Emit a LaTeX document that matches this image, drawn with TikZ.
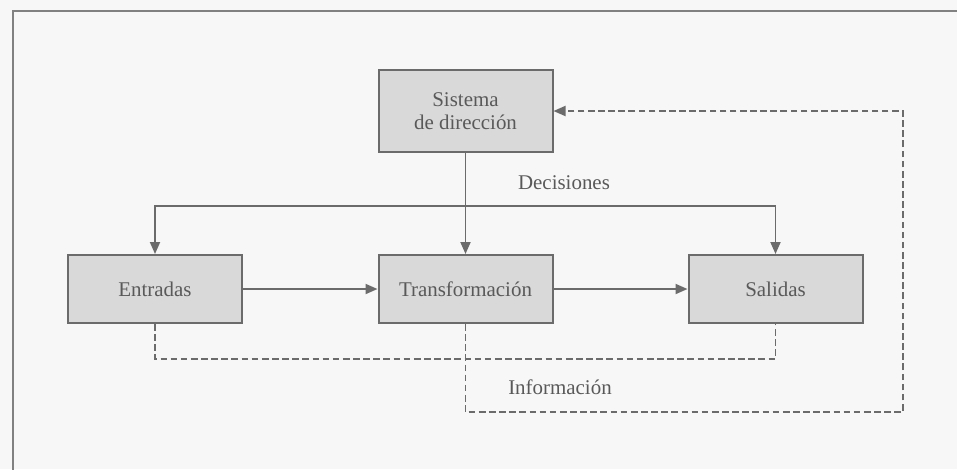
\documentclass[tikz,border=0pt]{standalone}
\usepackage{fontspec}
\setmainfont{Liberation Serif}
\usetikzlibrary{arrows.meta}
\definecolor{paper}{HTML}{F7F7F7}
\definecolor{ink}{HTML}{6B6B6B}
\definecolor{boxfill}{HTML}{D9D9D9}
\definecolor{txt}{HTML}{595959}
\begin{document}
\begin{tikzpicture}[x=0.75pt,y=-0.75pt,
  block/.style={draw=ink, line width=1.5pt, fill=boxfill, text=txt,
    minimum width=174*0.75pt, minimum height=68*0.75pt, inner sep=0pt,
    align=center, font=\fontsize{15.7}{17.5}\selectfont},
  flow/.style={draw=ink, line width=1.4pt},
  tip/.style={-{Triangle[length=9pt,width=7.5pt]}},
  feedback/.style={flow, dash pattern=on 5pt off 2.6pt},
  caption/.style={text=txt, font=\fontsize{15.7}{17.5}\selectfont}]
  % page and frame
  \fill[paper] (0,0) rectangle (957,469);
  \useasboundingbox (0,0) rectangle (957,469);
  \draw[draw=ink!85, line width=2pt] (13,470) -- (13,11) -- (958,11);

  % blocks
  \node[block, minimum height=82*0.75pt] (sistema) at (465.5,111) {Sistema\\de dirección};
  \node[block] (entradas) at (155,289) {Entradas};
  \node[block] (transf) at (465.5,289) {Transformación};
  \node[block] (salidas) at (775.5,289) {Salidas};

  % decision bus
  \coordinate (dec) at (465.5,206);
  \draw[flow, tip] (sistema.south) -- (transf.north);
  \draw[flow, tip] (dec) -| (entradas.north);
  \draw[flow, tip] (dec) -| (salidas.north);
  \node[caption] (decisiones) at (564,183) {Decisiones};

  % main flow
  \draw[flow, tip] (entradas.east) -- (transf.west);
  \draw[flow, tip] (transf.east) -- (salidas.west);

  % information feedback
  \coordinate (lowL) at (155,359);
  \coordinate (lowR) at (775.5,359);
  \draw[feedback] (entradas.south) -- (lowL) -- (lowR) -- (salidas.south);
  \coordinate (infoB) at (465.5,412);
  \coordinate (infoC) at (903,412);
  \coordinate (infoD) at (903,111);
  \draw[feedback, tip] (transf.south) -- (infoB) -- (infoC) -- (infoD) -- (sistema.east);
  \node[caption] (informacion) at (560,387) {Información};
\end{tikzpicture}
\end{document}
